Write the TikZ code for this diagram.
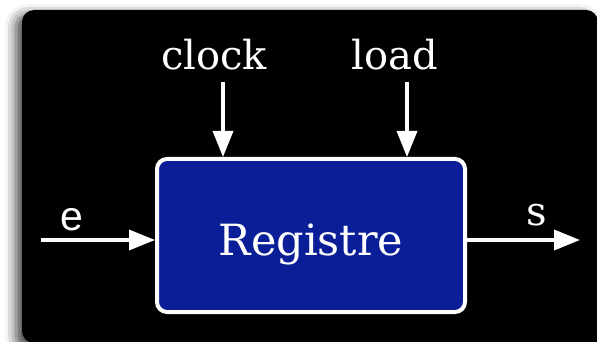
\documentclass[tikz,border=0pt]{standalone}
\usepackage{fontspec}
\usetikzlibrary{arrows.meta,shadows.blur}
\newfontfamily\slabfont{DejaVu Serif}
\newfontfamily\plainsans{Liberation Sans}
\definecolor{regblue}{RGB}{10,30,152}
\tikzset{
  sig/.style={draw=white, line width=3.5pt,
    -{Triangle[length=26pt,width=20pt]}},
  regbox/.style={draw=white, line width=4pt, fill=regblue,
    rounded corners=10pt, minimum width=308pt, minimum height=153pt},
  lbl/.style={text=white, inner sep=0pt, anchor=base,
    font=\slabfont\fontsize{40}{46}\selectfont},
}
\begin{document}
\begin{tikzpicture}[x=1pt,y=-1pt]
  \useasboundingbox (0,0) rectangle (597,342);
  \clip (0,0) rectangle (597,342);
  % black panel with a soft shadow
  \fill[black, rounded corners=12pt,
        blur shadow={shadow xshift=-6pt, shadow yshift=-5pt,
                     shadow blur radius=11pt, shadow opacity=75}]
    (620,343) -- (22,343) -- (22,10) -- (598,10) -- (598,370) -- (620,370) -- cycle;
  % register block and its caption
  \node[regbox] (reg) at (311,235.5) {};
  \node[lbl, font=\slabfont\fontsize{43}{48}\selectfont] (regname) at (311,255) {Registre};
  % input / output points
  \coordinate (clkin) at (223,82);
  \coordinate (ldin) at (407,82);
  \coordinate (ein) at (41,240);
  \coordinate (sout) at (580,240);
  \draw[sig] (clkin) -- (clkin |- reg.north);
  \draw[sig] (ldin) -- (ldin |- reg.north);
  \draw[sig] (ein) -- (ein -| reg.west);
  \draw[sig] (reg.east |- sout) -- (sout);
  % labels
  \node[lbl] (clk) at (214,70) {clock};
  \node[lbl] (ld) at (395,70) {load};
  \node[lbl, font=\plainsans\fontsize{41}{46}\selectfont] (e) at (72,230) {e};
  \node[lbl] (s) at (537,225) {s};
\end{tikzpicture}
\end{document}
